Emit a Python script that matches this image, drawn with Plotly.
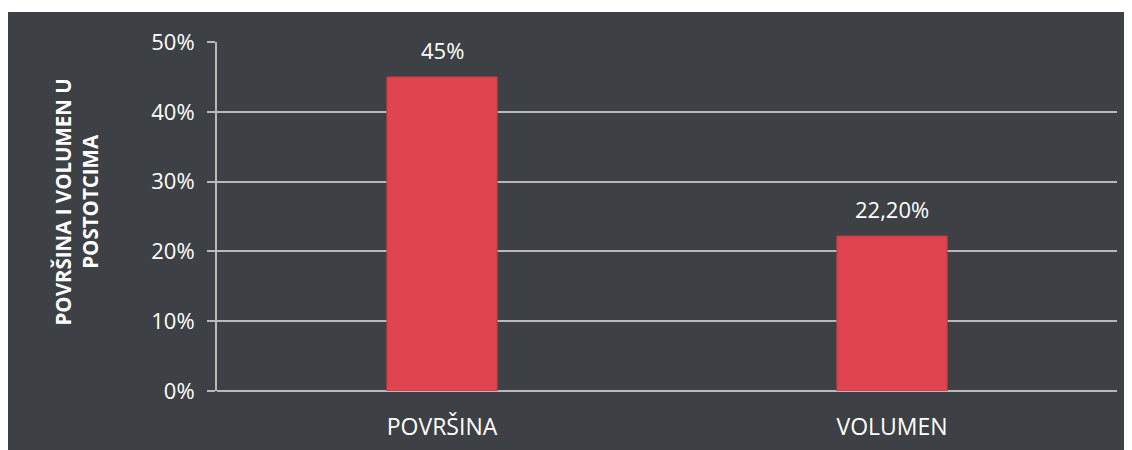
import plotly.graph_objects as go

# chart data
categories = ["POVRŠINA", "VOLUMEN"]
values = [0.45, 0.222]
value_labels = ["45%", "22,20%"]
y_ticks = [0, 0.1, 0.2, 0.3, 0.4, 0.5]
y_tick_labels = ["0%", "10%", "20%", "30%", "40%", "50%"]
y_title = "<b>POVRŠINA I VOLUMEN U<br>POSTOTCIMA</b>"

bg_dark = "#3d4045"
grid_gray = "#b9b9b9"
bar_red = "#e0454f"
font_family = "Open Sans"

# the html body has an 8px margin, so the figure is a bit smaller than the window
fig_w, fig_h = 1124, 442
m_l, m_r, m_t, m_b = 209, 15, 34, 59
plot_w = fig_w - m_l - m_r
plot_h = fig_h - m_t - m_b

fig = go.Figure()
fig.add_trace(
    go.Bar(
        x=categories,
        y=values,
        width=0.245,
        marker={"color": bar_red, "line": {"color": "#c23a42", "width": 1}},
        hoverinfo="skip",
    )
)

# value labels above each bar
for cat, val, label in zip(categories, values, value_labels):
    fig.add_annotation(
        x=cat,
        y=val,
        text=label,
        showarrow=False,
        yanchor="bottom",
        yshift=10,
        font={"color": "white", "size": 22, "family": font_family},
    )

# y axis title, sits a little above the plot centre in the original
fig.add_annotation(
    xref="paper",
    yref="paper",
    x=(69 - m_l) / plot_w,
    y=0.54,
    text=y_title,
    textangle=-90,
    showarrow=False,
    xanchor="center",
    yanchor="middle",
    font={"color": "white", "size": 20.5, "family": font_family},
)

# thin white strip along the top (edge of the scanned page)
fig.add_shape(
    type="rect",
    xref="paper",
    yref="paper",
    x0=-m_l / plot_w - 0.05,
    x1=1 + m_r / plot_w + 0.05,
    y0=(plot_h + m_t - 4) / plot_h,
    y1=(plot_h + m_t + 5) / plot_h,
    fillcolor="white",
    line={"width": 0},
    layer="below",
)

fig.update_layout(
    width=fig_w,
    height=fig_h,
    margin={"l": m_l, "r": m_r, "t": m_t, "b": m_b},
    paper_bgcolor=bg_dark,
    plot_bgcolor="rgba(0,0,0,0)",
    showlegend=False,
    bargap=0.755,
    font={"family": font_family, "color": "white"},
    xaxis={
        "showgrid": False,
        "showline": False,
        "tickfont": {"size": 23, "color": "white"},
        "ticks": "",
        "ticklabelstandoff": 20,
        "automargin": False,
        "fixedrange": True,
    },
    yaxis={
        "range": [0, 0.5],
        "tickvals": y_ticks,
        "ticktext": y_tick_labels,
        "tickfont": {"size": 22, "color": "white"},
        "showgrid": True,
        "gridcolor": grid_gray,
        "gridwidth": 2,
        "zeroline": True,
        "zerolinecolor": grid_gray,
        "zerolinewidth": 2,
        "showline": True,
        "linecolor": grid_gray,
        "linewidth": 2,
        "ticks": "outside",
        "ticklen": 8,
        "tickwidth": 2,
        "tickcolor": grid_gray,
        "ticklabelstandoff": 8,
        "automargin": False,
        "fixedrange": True,
    },
)

fig.write_html("out.html")
